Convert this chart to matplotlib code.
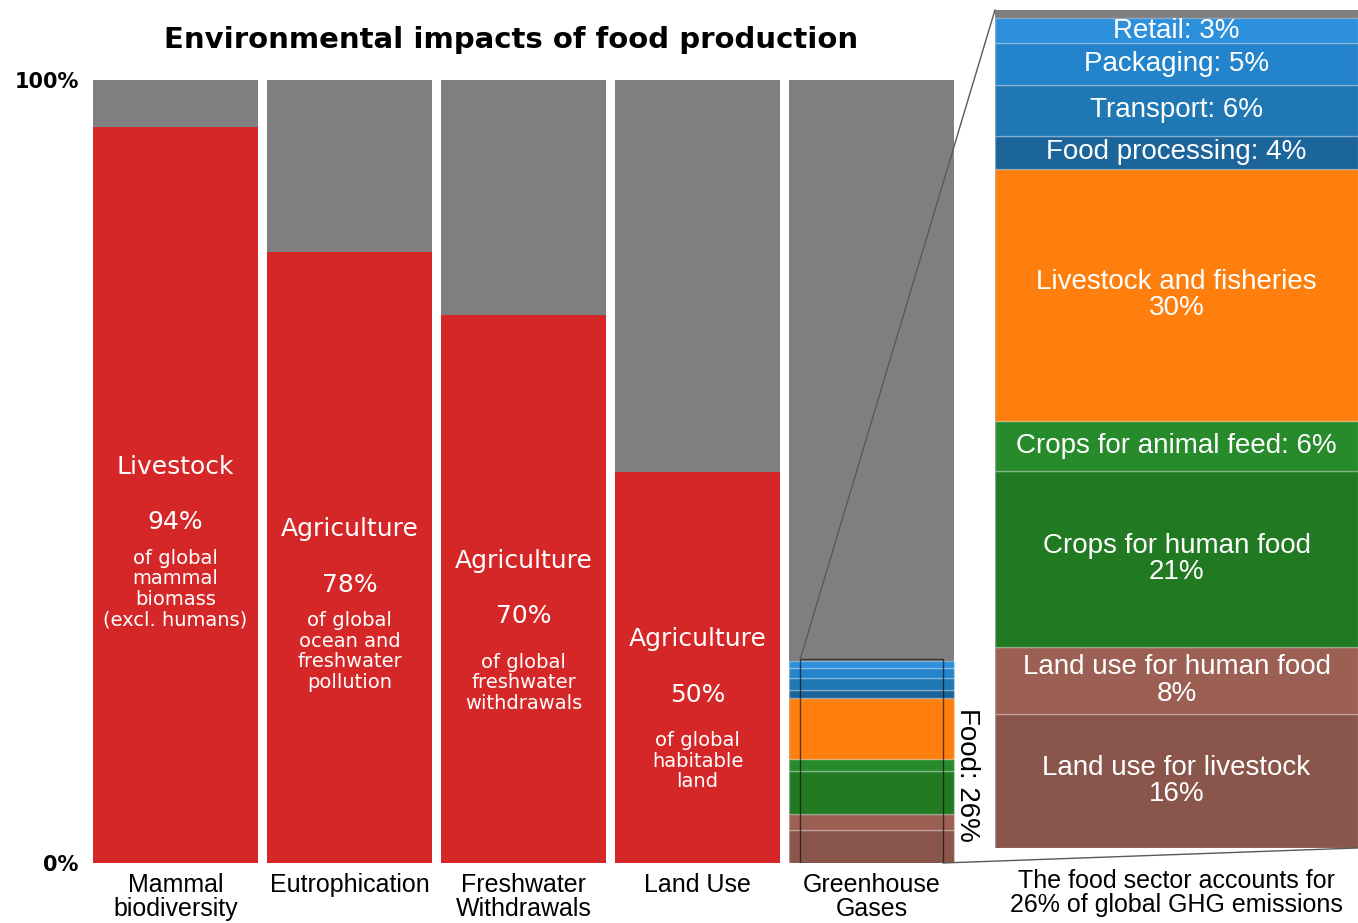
import numpy as np
import matplotlib
matplotlib.use('Agg')
import matplotlib.pyplot as plt
from matplotlib.patches import Rectangle, ConnectionPatch

# main bars
categories = ['Mammal\nbiodiversity', 'Eutrophication', 'Freshwater\nWithdrawals', 'Land Use', 'Greenhouse\nGases']
share = [94, 78, 70, 50]
heads = ['Livestock', 'Agriculture', 'Agriculture', 'Agriculture']
descs = ['of global\nmammal\nbiomass\n(excl. humans)',
         'of global\nocean and\nfreshwater\npollution',
         'of global\nfreshwater\nwithdrawals',
         'of global\nhabitable\nland']

# food sector breakdown (bottom to top), % of food emissions
food_total = 26
ghg_labels = ['Land use for livestock\n16%', 'Land use for human food\n8%',
              'Crops for human food\n21%', 'Crops for animal feed: 6%',
              'Livestock and fisheries\n30%', 'Food processing: 4%',
              'Transport: 6%', 'Packaging: 5%', 'Retail: 3%']
ghg_vals = [16, 8, 21, 6, 30, 4, 6, 5, 3]
ghg_colors = ['#8a564b', '#9c5f53', '#217a22', '#278b2c', '#fe7f0e',
              '#1b659b', '#1f77b4', '#2384cc', '#2c90dc']

red = '#d62728'
gray = '#7f7f7f'
sans = 'Liberation Sans'

fig = plt.figure(figsize=(13.58, 9.23), dpi=100)
ax = fig.add_axes([0.0652, 0.065, 0.6406, 0.8483])
ax2 = fig.add_axes([0.7327, 0.0813, 0.2673, 0.908])

x = np.arange(len(categories))
w = 0.95
# gray background for every bar
ax.bar(x, [100] * len(categories), width=w, color=gray, zorder=1)
ax.bar(x[:4], share, width=w, color=red, zorder=2)

for i, v in enumerate(share):
    ax.text(i, v / 2 + 3.6, heads[i], ha='center', va='center', color='white',
            fontsize=18, family='DejaVu Sans')
    ax.text(i, v / 2 - 3.5, f'{v}%', ha='center', va='center', color='white',
            fontsize=18, family='DejaVu Sans')
    ax.text(i, v / 2 - 12, descs[i], ha='center', va='center', color='white',
            fontsize=14, family='DejaVu Sans', linespacing=1.1)

# small stacked food bar inside GHG bar
bottom = 0
for v, c in zip(ghg_vals, ghg_colors):
    h = v * food_total / 100
    ax.bar(4, h, bottom=bottom, width=w, color=c, edgecolor=(1, 1, 1, 0.3),
           linewidth=1, zorder=3)
    bottom += h

rect = Rectangle((4 - 0.41, 0), 0.82, food_total, fill=False, edgecolor='black',
                 alpha=0.6, linewidth=1, zorder=4)
ax.add_patch(rect)
ax.text(4.55, food_total / 2 - 1.8, 'Food: 26%', rotation=-90, ha='center', va='center',
        fontsize=20, family=sans, clip_on=False)

ax.set_xlim(-0.5, 4.5)
ax.set_ylim(0, 100)
ax.set_xticks(x)
ax.set_xticklabels(categories, fontsize=18, family=sans, linespacing=1.0)
ax.set_yticks([0, 100])
ax.set_yticklabels(['0%', '100%'], fontsize=15, fontweight='bold', family='DejaVu Sans')
ax.tick_params(length=0, pad=7)
ax.tick_params(axis='x', pad=7)
for s in ax.spines.values():
    s.set_visible(False)

fig.text(511 / 1358, 1 - 40 / 923, 'Environmental impacts of food production',
         ha='center', va='center', fontsize=21, fontweight='bold', family='DejaVu Sans')

# right breakdown panel
ax2.bar(0.5, 100, width=1, color=gray, zorder=1)
bottom = 0
for v, c, lab in zip(ghg_vals, ghg_colors, ghg_labels):
    ax2.bar(0.5, v, bottom=bottom, width=1, color=c, edgecolor=(1, 1, 1, 0.3),
            linewidth=1, zorder=2)
    ax2.text(0.5, bottom + v / 2, lab, ha='center', va='center', color='white',
             fontsize=20, family=sans, linespacing=1.02, zorder=3)
    bottom += v
ax2.set_xlim(0, 1)
ax2.set_ylim(0, 100)
ax2.set_xticks([])
ax2.set_yticks([])
for s in ax2.spines.values():
    s.set_visible(False)
ax2.text(0.5, -2.5, 'The food sector accounts for\n26% of global GHG emissions',
         ha='center', va='top', fontsize=18, family=sans, linespacing=1.0)

con1 = ConnectionPatch(xyA=(4 - 0.41, food_total), coordsA=ax.transData,
                       xyB=(0, 100), coordsB=ax2.transData, color='0.35', linewidth=1)
con2 = ConnectionPatch(xyA=(4 + 0.41, 0), coordsA=ax.transData,
                       xyB=(1, 0), coordsB=ax2.transData, color='0.35', linewidth=1)
fig.add_artist(con1)
fig.add_artist(con2)

fig.savefig('out.png', dpi=100)
